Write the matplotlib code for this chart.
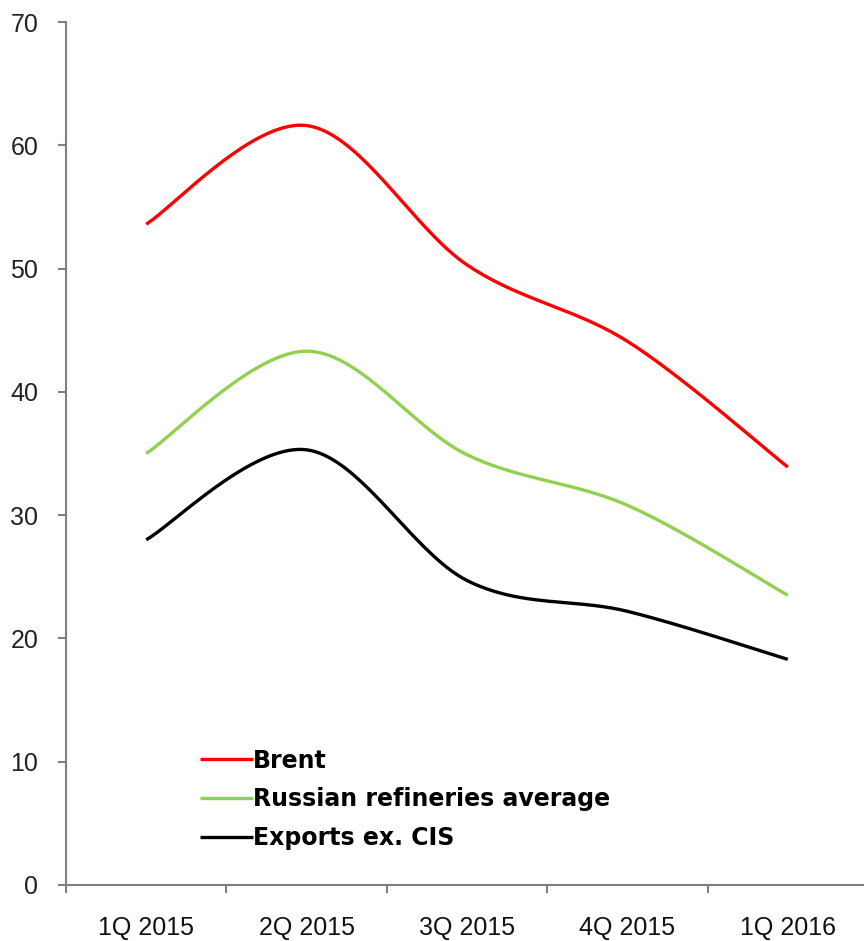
import matplotlib
matplotlib.use("Agg")
import matplotlib.pyplot as plt
import numpy as np

# ── data ─────────────────────────────────────────────────────────────────────
quarters = ["1Q 2015", "2Q 2015", "3Q 2015", "4Q 2015", "1Q 2016"]
brent = [53.6, 61.6, 50.3, 44.1, 33.9]
russian = [35.0, 43.3, 34.9, 30.8, 23.5]
exports = [28.0, 35.3, 24.7, 22.2, 18.3]


def smooth(y, n=40):
    """Excel-style smoothed line: cubic Bezier through each point pair."""
    x = np.arange(len(y), dtype=float)
    y = np.asarray(y, dtype=float)
    xp = np.concatenate([[x[0]], x, [x[-1]]])
    yp = np.concatenate([[y[0]], y, [y[-1]]])
    t = np.linspace(0, 1, n)[:, None]
    xs, ys = [], []
    for i in range(len(y) - 1):
        p0 = np.array([x[i], y[i]])
        p3 = np.array([x[i + 1], y[i + 1]])
        p1 = p0 + (np.array([xp[i + 2], yp[i + 2]]) - np.array([xp[i], yp[i]])) / 6
        p2 = p3 - (np.array([xp[i + 3], yp[i + 3]]) - np.array([xp[i + 1], yp[i + 1]])) / 6
        pts = ((1 - t) ** 3) * p0 + 3 * ((1 - t) ** 2) * t * p1 \
            + 3 * (1 - t) * t ** 2 * p2 + t ** 3 * p3
        xs.append(pts[:, 0]); ys.append(pts[:, 1])
    return np.concatenate(xs), np.concatenate(ys)


fig = plt.figure(figsize=(8.64, 9.41), dpi=100)
ax = fig.add_axes([66 / 864, 1 - 885 / 941, 798 / 864, (885 - 22) / 941])

series = [
    (brent, "#ff0000", "Brent"),
    (russian, "#92d050", "Russian refineries average"),
    (exports, "#000000", "Exports ex. CIS"),
]
for vals, col, lab in series:
    sx, sy = smooth(vals)
    ax.plot(sx, sy, color=col, lw=2.4, label=lab, solid_capstyle="butt")

tick_font = {"family": "Liberation Sans", "size": 18}

ax.set_xlim(-0.5, 4.475)
ax.set_ylim(0, 70)
ax.set_yticks(range(0, 71, 10))
ax.set_yticklabels([str(v) for v in range(0, 71, 10)], fontdict=tick_font, color="#222222")
ax.set_xticks(np.arange(-0.5, 4.5, 1), minor=False)
ax.set_xticklabels([])
ax.set_xticks(range(len(quarters)), minor=True)
ax.set_xticklabels(quarters, minor=True, fontdict=tick_font, color="#111111")
ax.tick_params(axis="x", which="minor", length=0, pad=22)
ax.tick_params(axis="x", which="major", length=6, color="#808080", width=1.5)
ax.tick_params(axis="y", length=6, color="#808080", width=1.5, pad=14)

for s in ["top", "right"]:
    ax.spines[s].set_visible(False)
for s in ["left", "bottom"]:
    ax.spines[s].set_color("#808080")
    ax.spines[s].set_linewidth(1.5)

leg = ax.legend(loc="upper left", bbox_to_anchor=(0.168, 0.158), frameon=False,
                borderpad=0, borderaxespad=0,
                handlelength=2.25, handletextpad=0.0, labelspacing=0.62,
                prop={"weight": "bold", "size": 17})

fig.savefig("out.png", dpi=100)
